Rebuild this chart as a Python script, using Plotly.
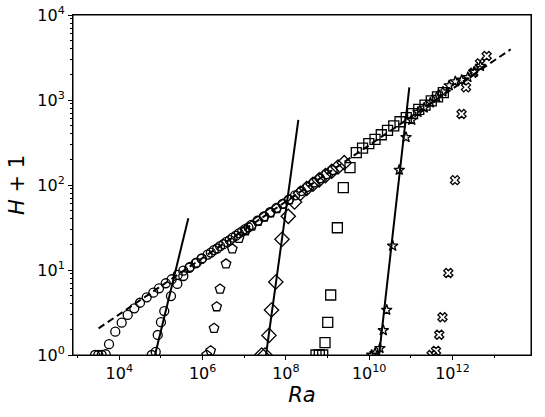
import plotly.graph_objects as go

# series A: open circles (lowest parameter)
ra_circ_a = [2.61e3, 3.13e3, 3.78e3, 4.71e3, 5.66e3, 8.0e3, 1.14e4, 1.59e4, 2.29e4, 3.14e4,
             4.55e4, 6.55e4, 8.97e4, 1.30e5, 1.81e5, 2.52e5, 3.44e5, 4.98e5, 7.21e5, 9.51e5,
             1.32e6, 1.86e6, 2.63e6, 3.72e6, 5.25e6, 7.41e6, 1.05e7, 1.48e7, 2.09e7, 2.95e7,
             4.17e7, 5.89e7, 8.32e7, 1.17e8, 1.66e8, 2.34e8, 3.31e8, 4.68e8, 6.61e8, 9.33e8, 1.32e9]
h_circ_a = [1.0, 1.0, 1.0, 1.02, 1.34, 1.88, 2.40, 2.96, 3.54, 4.12,
            4.77, 5.41, 6.09, 6.98, 7.78, 8.74, 9.81, 10.9, 12.2, 13.7,
            15.2, 17.1, 19.1, 21.4, 24.0, 27.0, 30.3, 33.9, 38.0, 42.6,
            47.8, 53.6, 60.1, 67.4, 75.6, 84.8, 95.1, 107, 120, 134, 150]

# series B: open circles on the first steep line
ra_circ_b = [6.0e4, 7.48e4, 8.36e4, 1.0e5, 1.20e5, 1.74e5, 2.47e5, 3.44e5, 4.79e5, 6.76e5,
             9.55e5, 1.58e6, 2.24e6, 3.16e6, 4.47e6, 6.31e6, 8.91e6, 1.26e7]
h_circ_b = [1.0, 1.09, 1.72, 2.43, 3.29, 4.94, 6.85, 8.5, 10.6, 12.0,
            13.5, 16.0, 17.9, 20.1, 22.5, 25.3, 28.4, 31.8]

ra_pent = [1.25e6, 1.56e6, 1.88e6, 2.18e6, 2.62e6, 3.65e6, 5.17e6, 7.48e6, 1.07e7, 1.51e7,
           2.14e7, 3.02e7, 4.27e7, 6.03e7, 8.51e7, 1.20e8]
h_pent = [1.0, 1.12, 2.06, 3.70, 5.98, 11.8, 17.7, 23.6, 29.0, 33.0,
          37.5, 42.0, 47.0, 53.0, 59.5, 67.0]

ra_diam = [2.62e7, 3.15e7, 3.93e7, 4.51e7, 5.72e7, 8.06e7, 1.14e8, 1.61e8, 2.24e8, 3.16e8,
           4.47e8, 6.31e8, 8.91e8, 1.26e9, 1.78e9, 2.51e9]
h_diam = [1.0, 1.0, 1.70, 3.38, 7.22, 23.0, 42.8, 63.1, 80.0, 91.0,
          102, 115, 129, 145, 163, 183]

ra_sq = [5.28e8, 6.34e8, 7.65e8, 8.69e8, 1.01e9, 1.19e9, 1.72e9, 2.39e9, 3.46e9, 4.90e9,
         6.92e9, 9.77e9, 1.38e10, 1.95e10, 2.75e10, 3.89e10, 5.50e10, 7.76e10, 1.10e11,
         1.55e11, 2.19e11, 3.09e11, 4.37e11, 6.03e11]
h_sq = [1.0, 1.0, 1.0, 1.40, 2.42, 5.08, 31.4, 93, 160, 240,
        272, 306, 345, 390, 440, 495, 555, 620, 690, 775, 870, 975, 1090, 1220]

ra_star = [1.15e10, 1.38e10, 1.81e10, 2.18e10, 2.63e10, 3.66e10, 5.28e10, 7.66e10, 1.05e11,
           1.48e11, 2.09e11, 2.95e11, 4.17e11, 5.89e11, 8.32e11, 1.17e12, 1.66e12, 2.34e12,
           3.31e12, 4.68e12]
h_star = [1.0, 1.05, 1.20, 1.95, 3.38, 19.2, 150, 364, 582,
          720, 810, 930, 1080, 1250, 1480, 1650, 1720, 1850, 2150, 2500]

ra_cross = [3.16e11, 4.02e11, 4.80e11, 5.75e11, 7.93e11, 1.15e12, 1.65e12, 2.11e12, 3.16e12,
            4.57e12, 6.61e12]
h_cross = [1.0, 1.12, 1.73, 2.78, 9.22, 114, 684, 1410, 2095, 2700, 3290]

# steep fits and the Ra^(1/3) scaling line
ra_fit1 = [7.2e4, 4.54e5]
h_fit1 = [1.0, 40.6]
ra_fit2 = [3.33e7, 1.99e8]
h_fit2 = [1.0, 582]
ra_fit3 = [1.73e10, 9.19e10]
h_fit3 = [1.0, 1410]
ra_scale = [3.18e3, 2.5e13]
h_scale = [2.06, 3950]

fig = go.Figure()

marker_sets = [
    (ra_circ_a, h_circ_a, 'circle-open', 9),
    (ra_circ_b, h_circ_b, 'circle-open', 9),
    (ra_pent, h_pent, 'pentagon-open', 10),
    (ra_diam, h_diam, 'diamond-open', 11),
    (ra_sq, h_sq, 'square-open', 10),
    (ra_star, h_star, 'star-open', 8),
    (ra_cross, h_cross, 'x-open', 8),
]
for xs, ys, sym, size in marker_sets:
    fig.add_trace(go.Scatter(
        x=xs, y=ys, mode='markers',
        marker=dict(symbol=sym, size=size, color='black', line=dict(width=1.3, color='black')),
        showlegend=False,
    ))

for xs, ys in [(ra_fit1, h_fit1), (ra_fit2, h_fit2), (ra_fit3, h_fit3)]:
    fig.add_trace(go.Scatter(x=xs, y=ys, mode='lines',
                             line=dict(color='black', width=2), showlegend=False))

fig.add_trace(go.Scatter(x=ra_scale, y=h_scale, mode='lines',
                         line=dict(color='black', width=2, dash='7px,4px'), showlegend=False))

x_ticks = [1e4, 1e6, 1e8, 1e10, 1e12]
y_ticks = [1, 10, 100, 1000, 10000]

fig.update_layout(
    width=545, height=417,
    margin=dict(l=73, r=14, t=15, b=62),
    paper_bgcolor='white', plot_bgcolor='white',
    font=dict(family='DejaVu Sans', size=16, color='black'),
    xaxis=dict(
        type='log', range=[2.888, 13.885], automargin=False,
        tickvals=x_ticks, ticktext=['10<sup>%d</sup>' % e for e in (4, 6, 8, 10, 12)],
        ticks='outside', ticklen=4, tickwidth=1, tickcolor='black',
        showline=True, mirror=True, linecolor='black', linewidth=1,
        showgrid=False, zeroline=False, ticklabeloverflow='allow',
        minor=dict(ticks='outside', ticklen=2, tickcolor='black',
                   tickvals=[1e3, 1e5, 1e7, 1e9, 1e11, 1e13]),
        title=dict(text='<i>Ra</i>', font=dict(size=21), standoff=0),
    ),
    yaxis=dict(
        type='log', range=[0, 4], automargin=False,
        tickvals=y_ticks, ticktext=['10<sup>%d</sup>' % e for e in range(5)],
        ticks='outside', ticklen=4, tickwidth=1, tickcolor='black',
        showline=True, mirror=True, linecolor='black', linewidth=1,
        showgrid=False, zeroline=False, ticklabeloverflow='allow',
        minor=dict(ticks='outside', ticklen=2, tickcolor='black',
                   tickvals=[m * 10 ** d for d in range(4) for m in range(2, 10)]),
        title=dict(text='<i>H</i> + 1', font=dict(size=21), standoff=6),
    ),
    shapes=[dict(type='rect', xref='paper', yref='paper', x0=0, x1=1, y0=0, y1=1,
                 line=dict(color='black', width=1), layer='above')],
)

# drop the browser's default 8px body margin so the figure sits at the window corner
fig.write_html('out.html', config={'displayModeBar': False},
               post_script="document.body.style.margin='0px';")
